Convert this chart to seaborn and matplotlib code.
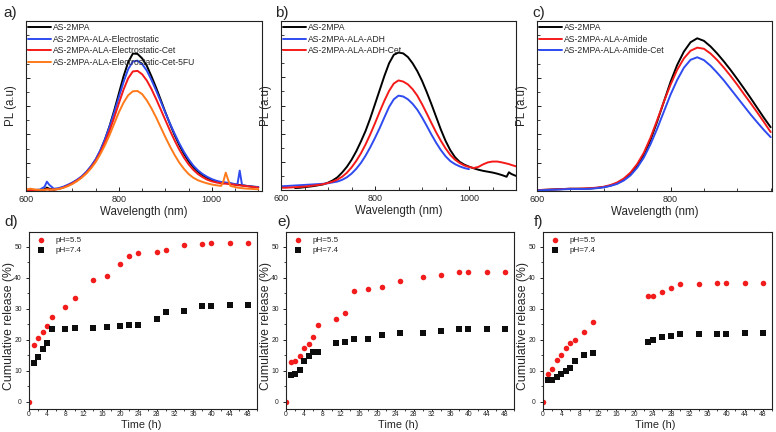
import numpy as np
import pandas as pd
import matplotlib
matplotlib.use("Agg")
import matplotlib.pyplot as plt
import seaborn as sns
from matplotlib.ticker import MultipleLocator, NullFormatter

sns.set_style("ticks")
plt.rcParams['font.family'] = ['Liberation Sans', 'DejaVu Sans']

# ---------------- spectra data ----------------
wl_a = [600, 610, 620, 630, 640, 645, 650, 660, 670, 680, 690, 700, 710, 720, 730, 740, 750, 760, 770, 780,
        790, 800, 810, 820, 830, 840, 850, 860, 870, 880, 890, 900, 910, 920, 930, 940, 950, 960, 970, 980,
        990, 1000, 1010, 1020, 1025, 1030, 1035, 1040, 1050, 1055, 1060, 1065, 1070, 1080, 1090, 1100]
a_black = [0.04, 0.03, 0.03, 0.03, 0.06, 0.12, 0.08, 0.05, 0.08, 0.13, 0.2, 0.28, 0.38, 0.5, 0.66, 0.86, 1.1, 1.42, 1.82, 2.3,
           2.85, 3.45, 4.05, 4.55, 4.85, 4.84, 4.68, 4.42, 4.05, 3.65, 3.22, 2.78, 2.36, 1.97, 1.62, 1.31, 1.05, 0.84, 0.68, 0.56,
           0.46, 0.38, 0.33, 0.3, 0.29, 0.28, 0.27, 0.26, 0.23, 0.22, 0.21, 0.2, 0.19, 0.17, 0.15, 0.14]
a_blue = [0.04, 0.05, 0.04, 0.05, 0.15, 0.33, 0.22, 0.08, 0.1, 0.15, 0.22, 0.3, 0.4, 0.52, 0.68, 0.88, 1.12, 1.44, 1.83, 2.28,
          2.78, 3.32, 3.85, 4.3, 4.57, 4.6, 4.48, 4.25, 3.92, 3.55, 3.16, 2.76, 2.38, 2.02, 1.68, 1.38, 1.12, 0.9, 0.73, 0.6,
          0.5, 0.42, 0.36, 0.32, 0.31, 0.3, 0.29, 0.28, 0.24, 0.22, 0.72, 0.21, 0.19, 0.17, 0.15, 0.14]
a_red = [0.02, 0.02, 0.02, 0.03, 0.04, 0.07, 0.05, 0.05, 0.07, 0.12, 0.19, 0.27, 0.37, 0.49, 0.64, 0.83, 1.06, 1.36, 1.72, 2.13,
         2.6, 3.1, 3.58, 3.98, 4.22, 4.24, 4.12, 3.9, 3.6, 3.25, 2.88, 2.5, 2.13, 1.78, 1.46, 1.18, 0.94, 0.75, 0.6, 0.49,
         0.4, 0.34, 0.3, 0.27, 0.26, 0.26, 0.25, 0.24, 0.22, 0.2, 0.2, 0.19, 0.18, 0.16, 0.14, 0.12]
a_orange = [0.06, 0.08, 0.05, 0.04, 0.04, 0.05, 0.05, 0.05, 0.07, 0.11, 0.17, 0.25, 0.35, 0.47, 0.62, 0.8, 1.02, 1.3, 1.62, 1.98,
            2.38, 2.78, 3.12, 3.38, 3.52, 3.53, 3.42, 3.2, 2.92, 2.6, 2.25, 1.9, 1.57, 1.27, 1.0, 0.78, 0.6, 0.47, 0.38, 0.32,
            0.27, 0.23, 0.2, 0.18, 0.35, 0.65, 0.4, 0.18, 0.14, 0.12, 0.11, 0.1, 0.09, 0.08, 0.07, 0.06]
labels_a = ["AS-2MPA", "AS-2MPA-ALA-Electrostatic", "AS-2MPA-ALA-Electrostatic-Cet", "AS-2MPA-ALA-Electrostatic-Cet-5FU"]

wl_b = [600, 610, 620, 630, 640, 650, 660, 670, 680, 690, 700, 710, 720, 730, 740, 750, 760, 770, 780, 790,
        800, 810, 820, 830, 840, 850, 860, 870, 880, 890, 900, 910, 920, 930, 940, 950, 960, 970, 980, 990,
        1000, 1010, 1020, 1030, 1040, 1050, 1060, 1070, 1080, 1085, 1090, 1100]
nan = np.nan
b_black = [nan, nan, nan, 0.07, 0.08, 0.1, 0.12, 0.14, 0.17, 0.2, 0.26, 0.34, 0.45, 0.62, 0.82, 1.07, 1.37, 1.72, 2.1, 2.55,
           3.05, 3.55, 4.05, 4.5, 4.8, 4.88, 4.85, 4.72, 4.5, 4.22, 3.88, 3.48, 3.05, 2.6, 2.15, 1.75, 1.42, 1.17, 1.0, 0.9,
           0.83, 0.77, 0.72, 0.68, 0.65, 0.62, 0.58, 0.53, 0.47, 0.63, 0.57, 0.5]
b_blue = [0.13, 0.14, 0.15, 0.16, 0.17, 0.18, 0.19, 0.2, 0.21, 0.22, 0.24, 0.27, 0.3, 0.36, 0.45, 0.58, 0.75, 0.96, 1.22, 1.52,
          1.85, 2.2, 2.58, 2.95, 3.22, 3.35, 3.32, 3.22, 3.06, 2.85, 2.58, 2.28, 1.97, 1.68, 1.42, 1.2, 1.03, 0.92, 0.84, 0.78,
          0.74, nan, nan, nan, nan, nan, nan, nan, nan, nan, nan, nan]
b_red = [0.08, 0.08, 0.09, 0.1, 0.11, 0.12, 0.14, 0.16, 0.18, 0.21, 0.25, 0.3, 0.37, 0.47, 0.61, 0.8, 1.03, 1.3, 1.62, 1.98,
         2.37, 2.78, 3.17, 3.52, 3.78, 3.89, 3.85, 3.75, 3.58, 3.35, 3.05, 2.72, 2.38, 2.05, 1.75, 1.48, 1.25, 1.08, 0.96, 0.87,
         0.82, 0.78, 0.82, 0.91, 0.98, 1.01, 1.01, 0.98, 0.94, 0.92, 0.89, 0.84]
labels_b = ["AS-2MPA", "AS-2MPA-ALA-ADH", "AS-2MPA-ALA-ADH-Cet"]

wl_c = [600, 610, 620, 630, 640, 650, 660, 670, 680, 690, 700, 710, 720, 730, 740, 750, 760, 770, 780, 790,
        800, 810, 820, 830, 840, 850, 860, 870, 880, 890, 900, 910, 920, 930, 940, 950]
c_black = [0.03, 0.04, 0.05, 0.06, 0.07, 0.08, 0.08, 0.08, 0.09, 0.11, 0.14, 0.19, 0.27, 0.4, 0.6, 0.88, 1.27, 1.8, 2.45, 3.15,
           3.85, 4.45, 4.92, 5.25, 5.39, 5.3, 5.1, 4.85, 4.57, 4.27, 3.95, 3.62, 3.28, 2.93, 2.58, 2.25]
c_red = [0.03, 0.04, 0.05, 0.06, 0.07, 0.08, 0.08, 0.09, 0.1, 0.12, 0.15, 0.21, 0.3, 0.44, 0.65, 0.95, 1.35, 1.88, 2.5, 3.15,
         3.75, 4.28, 4.68, 4.95, 5.06, 5.02, 4.85, 4.62, 4.35, 4.06, 3.75, 3.42, 3.1, 2.77, 2.43, 2.08]
c_blue = [0.02, 0.03, 0.04, 0.05, 0.06, 0.07, 0.07, 0.07, 0.08, 0.1, 0.13, 0.18, 0.25, 0.37, 0.55, 0.82, 1.18, 1.65, 2.2, 2.8,
          3.4, 3.92, 4.35, 4.63, 4.72, 4.62, 4.42, 4.17, 3.9, 3.6, 3.3, 3.0, 2.7, 2.42, 2.15, 1.9]
labels_c = ["AS-2MPA", "AS-2MPA-ALA-Amide", "AS-2MPA-ALA-Amide-Cet"]

# ---------------- release data ----------------
t_d = [0, 1, 2, 3, 4, 5, 8, 10, 14, 17, 20, 22, 24, 28, 30, 34, 38, 40, 44, 48]
d_ph55 = [0, 18.3, 20.5, 22.7, 24.4, 27.5, 30.7, 33.5, 39.4, 40.5, 44.5, 47.2, 47.9, 48.3, 49.0, 50.6, 51.0, 51.3, 51.3, 51.3]
t_d74 = [1, 2, 3, 4, 5, 8, 10, 14, 17, 20, 22, 24, 28, 30, 34, 38, 40, 44, 48]
d_ph74 = [12.7, 14.4, 17.1, 19.1, 23.5, 23.5, 23.8, 23.9, 24.1, 24.4, 24.7, 24.7, 26.6, 29.0, 29.4, 31.0, 31.0, 31.1, 31.1]

t_e = [0, 1, 2, 3, 4, 5, 6, 7, 11, 13, 15, 18, 21, 25, 30, 34, 38, 40, 44, 48]
e_ph55 = [0, 12.8, 13.3, 14.9, 17.4, 18.6, 21.0, 24.9, 26.8, 28.8, 35.7, 36.3, 37.0, 39.1, 40.2, 41.0, 41.8, 41.8, 41.8, 41.8]
t_e74 = [1, 2, 3, 4, 5, 6, 7, 11, 13, 15, 18, 21, 25, 30, 34, 38, 40, 44, 48]
e_ph74 = [8.8, 9.1, 10.4, 13.1, 14.9, 16.1, 16.1, 18.9, 19.2, 20.2, 20.2, 21.6, 22.1, 22.2, 23.0, 23.5, 23.5, 23.5, 23.5]

t_f = [0, 1, 2, 3, 4, 5, 6, 7, 9, 11, 23, 24, 26, 28, 30, 34, 38, 40, 44, 48]
f_ph55 = [0, 9.1, 10.5, 13.5, 15.1, 17.4, 19.0, 20.1, 22.7, 25.7, 34.0, 34.1, 35.6, 36.8, 38.0, 38.0, 38.2, 38.4, 38.4, 38.4]
t_f74 = [1, 2, 3, 4, 5, 6, 7, 9, 11, 23, 24, 26, 28, 30, 34, 38, 40, 44, 48]
f_ph74 = [7.0, 7.1, 8.0, 9.0, 9.8, 10.8, 13.2, 15.0, 15.7, 19.3, 19.9, 20.8, 21.1, 21.9, 22.0, 22.0, 22.0, 22.2, 22.2]

BLACK = "#000000"
BLUE = "#2f4bf0"
RED = "#f51a1a"
ORANGE = "#ff7a1a"
PT_RED = "#f21c1c"
PT_BLACK = "#0d0d0d"

W, H = 776, 432
fig = plt.figure(figsize=(W / 100, H / 100), dpi=100)


def px_axes(l, t, r, b):
    return fig.add_axes([l / W, 1 - b / H, (r - l) / W, (b - t) / H])


def style_spines(ax):
    for s in ax.spines.values():
        s.set_visible(True)
        s.set_linewidth(0.8)
        s.set_color("#222222")


def spectrum_panel(ax, wl, series, labels, colors, xmax):
    frames = []
    for vals, lab in zip(series, labels):
        frames.append(pd.DataFrame({"wl": wl, "pl": vals, "sample": lab}))
    df = pd.concat(frames, ignore_index=True).dropna()
    sns.lineplot(data=df, x="wl", y="pl", hue="sample", hue_order=labels,
                 palette=dict(zip(labels, colors)), estimator=None, sort=False,
                 linewidth=1.4, ax=ax)
    ax.set_xlim(600, xmax)
    ax.set_ylim(0, 6)
    ax.xaxis.set_major_locator(MultipleLocator(200))
    ax.xaxis.set_minor_locator(MultipleLocator(50))
    ax.yaxis.set_major_locator(MultipleLocator(1))
    ax.yaxis.set_minor_locator(MultipleLocator(0.5))
    ax.yaxis.set_major_formatter(NullFormatter())
    ax.tick_params(which="both", direction="in", top=False, right=False, color="#222222")
    ax.tick_params(axis="x", which="major", length=3, width=0.7, labelsize=6.5, pad=3)
    ax.tick_params(axis="x", which="minor", length=2, width=0.6)
    ax.tick_params(axis="y", which="major", length=3, width=0.7)
    ax.tick_params(axis="y", which="minor", length=1.8, width=0.6)
    ax.set_xlabel("Wavelength (nm)", fontsize=8.3)
    ax.set_ylabel("PL (a.u)", fontsize=8.3)
    ax.xaxis.set_label_coords(0.5, -0.09)
    ax.yaxis.set_label_coords(-0.04, 0.5)
    style_spines(ax)
    ax.legend(loc="upper left", frameon=False, fontsize=6.2, handlelength=2.6,
              handletextpad=0.25, labelspacing=0.3, borderpad=0.15, borderaxespad=0.1)


def release_panel(ax, t55, y55, t74, y74):
    sns.scatterplot(x=t55, y=y55, color=PT_RED, marker="o", s=16, linewidth=0,
                    label="pH=5.5", ax=ax)
    sns.scatterplot(x=t74, y=y74, color=PT_BLACK, marker="s", s=15, linewidth=0,
                    label="pH=7.4", ax=ax)
    ax.set_xlim(0, 50)
    ax.set_ylim(-2.3, 54.8)
    ax.xaxis.set_major_locator(MultipleLocator(4))
    ax.xaxis.set_minor_locator(MultipleLocator(2))
    ax.yaxis.set_major_locator(MultipleLocator(10))
    ax.yaxis.set_minor_locator(MultipleLocator(5))
    ax.tick_params(which="both", direction="out", top=False, right=False, color="#222222")
    ax.tick_params(which="major", width=0.7, labelsize=4.9)
    ax.tick_params(axis="x", which="major", length=1.5, pad=0)
    ax.tick_params(axis="y", which="major", length=2.2, pad=3)
    ax.tick_params(which="minor", length=1.3, width=0.6)
    ax.set_xlabel("Time (h)", fontsize=7.8)
    ax.set_ylabel("Cumulative release (%)", fontsize=8.8)
    ax.xaxis.set_label_coords(0.49, -0.061)
    ax.yaxis.set_label_coords(-0.063, 0.47)
    style_spines(ax)
    ax.legend(loc="upper left", frameon=False, fontsize=5.8, handlelength=2.0,
              handletextpad=0.8, labelspacing=0.3, borderpad=0.4, borderaxespad=0.1,
              markerscale=1.0)


ax_a = px_axes(26, 21, 262, 191)
spectrum_panel(ax_a, wl_a, [a_black, a_blue, a_red, a_orange], labels_a,
               [BLACK, BLUE, RED, ORANGE], 1108)
ax_b = px_axes(281, 21, 516, 190)
spectrum_panel(ax_b, wl_b, [b_black, b_blue, b_red], labels_b,
               [BLACK, BLUE, RED], 1100)
ax_c = px_axes(537, 21, 772, 191)
spectrum_panel(ax_c, wl_c, [c_black, c_red, c_blue], labels_c,
               [BLACK, RED, BLUE], 952)

ax_d = px_axes(29, 232, 257, 409)
release_panel(ax_d, t_d, d_ph55, t_d74, d_ph74)
ax_e = px_axes(286, 232, 514, 409)
release_panel(ax_e, t_e, e_ph55, t_e74, e_ph74)
ax_f = px_axes(543, 232, 772, 409)
release_panel(ax_f, t_f, f_ph55, t_f74, f_ph74)

for lab, x, y in [("a)", 3, 13), ("b)", 275, 13), ("c)", 532, 13),
                  ("d)", 4, 222), ("e)", 277, 222), ("f)", 534, 222)]:
    fig.text(x / W, 1 - y / H, lab, fontsize=11, ha="left", va="center")

fig.savefig("out.png", dpi=100)
